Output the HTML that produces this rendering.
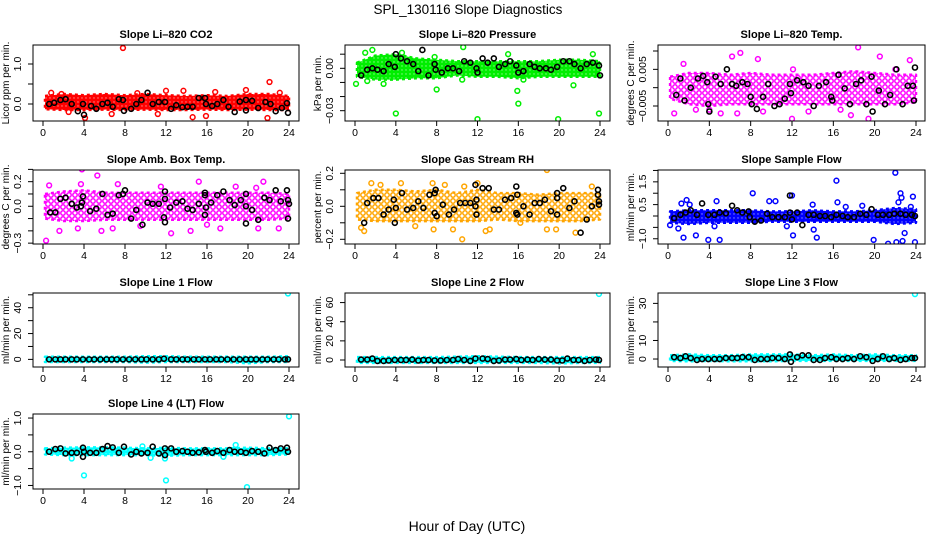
<!DOCTYPE html>
<html><head><meta charset="utf-8"><style>
html,body{margin:0;padding:0;background:#fff;}
svg{display:block;font-family:"Liberation Sans",Arial,sans-serif;}
</style></head><body>
<svg id="chart" width="936" height="540" viewBox="0 0 936 540" xmlns="http://www.w3.org/2000/svg">
<rect x="0" y="0" width="936" height="540" fill="#fff"/>
<text x="468" y="14" text-anchor="middle" font-size="13.5">SPL_130116  Slope Diagnostics</text>
<text x="467" y="531" text-anchor="middle" font-size="14">Hour of Day (UTC)</text>
</svg>
<script>
// ---------- data ----------
const xTicks = [0,4,8,12,16,20,24];
const bandHours = [0,2,4,6,8,10,12,14,16,18,20,22,24];

const co2Hi = [0.2,0.25,0.22,0.25,0.22,0.25,0.22,0.2,0.22,0.2,0.25,0.25,0.2];
const co2Lo = [-0.13,-0.15,-0.15,-0.14,-0.15,-0.14,-0.15,-0.15,-0.14,-0.15,-0.14,-0.15,-0.15];
const co2Out = [[7.8,1.4],[22.1,0.55],[19.8,0.35],[15.9,-0.3],[4.1,-0.35],[21.9,-0.35],[14.6,-0.33],[12,0.33],[13.7,0.33],[0.8,0.28],[6.7,-0.25],[1.8,0.25],[23.1,0.28],[9.2,0.27],[16.8,0.3],[2.5,-0.2],[11.2,-0.25]];
const co2Blk = [[0.6,0],[1.1,0.03],[1.7,0.1],[2.2,0.12],[2.8,0],[3.4,-0.18],[3.9,0],[4,-0.27],[4.7,-0.05],[5.2,-0.12],[5.8,0],[6.3,0.03],[6.8,-0.07],[7.4,0.12],[7.8,0.1],[7.9,-0.17],[8.6,-0.12],[9.1,0],[9.6,0.1],[10.2,0.28],[10.7,0],[11.3,0.05],[11.9,0.05],[12.5,-0.12],[13,-0.03],[13.6,-0.08],[14.1,-0.07],[14.6,-0.07],[15.2,0.15],[15.8,0.15],[15.9,0],[16.5,-0.05],[17,0],[17.6,0.1],[18.1,-0.07],[18.7,-0.2],[19.2,0.06],[19.8,0.1],[19.8,-0.16],[20.4,0.08],[21,-0.1],[21.7,0.05],[22.2,0],[22.7,-0.18],[23.3,-0.1],[23.8,0.02],[23.9,-0.22]];

const presHi = [0.004,0.009,0.01,0.007,0.006,0.005,0.005,0.005,0.005,0.005,0.006,0.006,0.005];
const presLo = [-0.006,-0.008,-0.008,-0.007,-0.007,-0.005,-0.006,-0.006,-0.007,-0.006,-0.006,-0.006,-0.006];
const presOut = [[4,-0.032],[12,-0.036],[19.9,-0.036],[23.9,-0.032],[16,-0.025],[15.9,-0.016],[8,-0.015],[7.8,0.008],[10.6,0.015],[1.7,0.013],[1,0.011],[0.1,-0.011],[1.2,-0.009],[21.4,-0.012],[23.3,0.01],[2.8,-0.011],[16.5,-0.008],[4.6,0.011],[15,0.01],[10.5,-0.008]];
const presBlk = [[0.6,-0.005],[1.2,-0.001],[1.7,0],[2.2,-0.001],[2.8,-0.002],[3.3,0.003],[3.9,0.001],[4,0.01],[4.5,0.007],[5.1,0.005],[5.7,0.003],[6.2,-0.002],[6.6,0.013],[7.2,-0.005],[7.8,0.003],[7.9,-0.001],[8.5,-0.003],[9.1,0],[9.6,0],[10.2,-0.002],[10.7,0.005],[11.3,0.004],[11.9,0],[12,-0.003],[12.5,0.007],[13,0.004],[13.6,0.007],[14.1,0.001],[14.7,0.003],[15.2,0.005],[15.8,0.002],[16,-0.003],[16.5,-0.002],[17.1,0.003],[17.6,0.001],[18.1,0],[18.7,0],[19.2,-0.001],[19.8,0.001],[20.4,0.005],[21,0.005],[21.5,0.003],[22.1,0],[22.7,0.003],[23.3,0.004],[23.9,0.002],[24,-0.005]];

const tempHi = [0.003,0.004,0.004,0.0035,0.004,0.0035,0.0035,0.0035,0.004,0.0045,0.004,0.0035,0.0035];
const tempLo = [-0.003,-0.0045,-0.005,-0.0045,-0.0045,-0.0045,-0.0045,-0.0045,-0.0045,-0.0045,-0.0045,-0.0045,-0.004];
const tempOut = [[18.4,0.011],[7,0.0095],[12,-0.0085],[19.4,-0.0085],[0.6,-0.007],[5.1,-0.007],[6.7,-0.007],[17.7,-0.0075],[20.5,0.0085],[23.4,0.0075],[8.7,0.0078],[6.2,0.0085],[1.5,0.0065],[13.6,-0.0065],[16.7,-0.006],[4,-0.006],[12.1,0.005],[2.7,-0.006],[22,0.005],[9.2,-0.0065]];
const tempBlk = [[0.8,-0.002],[1.2,0.0025],[1.6,-0.0035],[2.2,0],[2.9,0.0025],[3.4,0.0032],[3.8,0.0015],[3.9,-0.0045],[4,-0.0065],[4.6,0.003],[5.1,0.001],[5.7,0.005],[6.2,0.001],[6.6,0.0005],[7.2,0.0015],[7.7,0.001],[8,-0.0025],[8.1,-0.0045],[8.6,-0.0058],[9.2,-0.0025],[9.7,0.001],[10.3,-0.005],[10.8,-0.0045],[11.3,-0.003],[11.8,0.001],[11.9,-0.0015],[12.5,0.002],[13.1,0.0015],[13.6,0.0005],[14.1,-0.005],[14.6,0.0005],[15.3,0.0015],[15.8,-0.0025],[15.9,-0.0035],[16.5,0.0035],[17.1,-0.0002],[17.6,-0.0045],[18.2,0.001],[18.7,0.002],[19.2,-0.0045],[19.7,0.003],[19.8,-0.0065],[20.4,-0.0008],[21,-0.0045],[21.5,-0.002],[22.1,0.005],[22.7,-0.0045],[23.2,0.0005],[23.7,0.0005],[23.8,-0.0035],[23.9,0.0055]];

const ambHi = [0.1,0.12,0.13,0.11,0.11,0.11,0.11,0.11,0.11,0.11,0.11,0.11,0.1];
const ambLo = [-0.1,-0.12,-0.12,-0.11,-0.11,-0.11,-0.11,-0.11,-0.11,-0.11,-0.11,-0.11,-0.1];
const ambOut = [[0.3,-0.28],[3.8,0.3],[5.3,0.25],[7.3,0.18],[15.2,0.2],[21.5,0.2],[1.6,-0.2],[3.4,-0.18],[5.7,-0.2],[6.8,-0.18],[12.5,-0.22],[14.4,-0.2],[16,-0.15],[17.3,-0.18],[21,-0.18],[0.6,0.17],[18.8,0.16],[23,-0.18],[3.7,0.18],[11.5,0.16],[20.8,0.15],[9.5,-0.16]];
const ambBlk = [[0.7,-0.05],[1.2,-0.05],[1.7,0.06],[2.2,0.07],[2.8,0.02],[3.3,-0.01],[3.7,0],[3.8,0.03],[3.9,0.08],[4.6,-0.04],[5.2,-0.02],[5.8,0.1],[6.3,-0.07],[6.8,-0.06],[7.4,0.09],[7.8,0.1],[8,0.13],[8.6,-0.1],[9.1,-0.03],[9.7,-0.15],[10.2,0.03],[10.7,0.02],[11.3,0.02],[11.8,-0.09],[11.9,0.12],[11.9,0.06],[11.9,-0.13],[12.4,-0.01],[13,0.03],[13.6,0.04],[14.1,-0.02],[14.6,-0.03],[15.2,0.02],[15.8,0.11],[15.8,0.09],[15.9,-0.01],[15.8,-0.07],[16.4,0.03],[17,0.09],[17.6,0.12],[18.2,0.05],[18.7,0.01],[19.3,0.05],[19.8,0.1],[19.8,0],[19.8,-0.14],[20.4,-0.03],[21,-0.11],[21.6,0.07],[22.1,0.05],[22.7,0.13],[23.2,0.04],[23.8,0.13],[23.9,0.05],[23.9,-0.1],[24,0.02]];

const rhHi = [0.08,0.1,0.1,0.09,0.1,0.08,0.1,0.08,0.08,0.07,0.08,0.08,0.08];
const rhLo = [-0.08,-0.09,-0.09,-0.09,-0.09,-0.09,-0.09,-0.08,-0.09,-0.09,-0.09,-0.09,-0.08];
const rhOut = [[18.8,0.22],[10.5,-0.2],[0.6,-0.13],[0.9,-0.15],[7.7,-0.14],[12.8,-0.15],[13.2,-0.14],[21.6,-0.16],[18.8,-0.14],[19.7,-0.14],[9.6,-0.14],[4.5,0.14],[1.6,0.14],[7.6,0.14],[23.2,0.12],[12,0.14],[8.8,0.13],[10.7,0.12],[2.5,0.13],[16.2,-0.1],[5.9,-0.12]];
const rhBlk = [[0.9,-0.1],[1.2,0.02],[1.8,0.05],[2.3,0.05],[2.8,-0.05],[3.3,-0.02],[3.8,0.04],[3.9,-0.1],[4,-0.01],[4.6,0.08],[5.1,-0.02],[5.7,-0.01],[6.2,0.03],[6.7,-0.01],[7.3,0.07],[7.8,0.08],[7.9,0.1],[7.8,-0.04],[8,-0.06],[8.6,0.01],[9.2,-0.05],[9.7,-0.02],[10.3,0.02],[10.8,0.02],[11.3,0.02],[11.8,0.13],[11.9,0.04],[11.8,0],[11.9,-0.05],[12.5,0.11],[13.1,0.11],[13.6,-0.02],[14.1,-0.02],[14.7,0.04],[15.3,0.05],[15.8,0.12],[15.9,0.07],[15.8,-0.04],[15.9,-0.05],[16.5,0],[17.1,-0.05],[17.6,0.02],[18.1,0.02],[18.6,0.04],[19.2,-0.03],[19.8,0.08],[19.8,0.05],[19.8,-0.05],[20.4,0.11],[21,-0.01],[21.5,0.03],[22.1,-0.16],[22.7,-0.08],[23.2,0],[23.8,0.1],[23.8,0.07],[23.9,0.03],[23.9,0.01]];

const sfHi = [0.2,0.25,0.25,0.25,0.25,0.2,0.2,0.25,0.2,0.2,0.25,0.35,0.3];
const sfLo = [-0.3,-0.35,-0.3,-0.3,-0.3,-0.25,-0.25,-0.25,-0.25,-0.25,-0.25,-0.35,-0.3];
const sfOut = [[22,1.9],[16.3,1.55],[22.5,1.0],[8.2,1.0],[12,0.9],[23.7,0.85],[22.6,0.8],[9.8,0.65],[10.4,0.65],[16.4,0.6],[4.7,0.65],[1.8,0.7],[1.3,0.55],[17.2,0.4],[18.8,0.45],[5,-1.05],[3.9,-1.05],[1.5,-0.95],[2.7,-0.85],[12.1,-0.85],[14.4,-0.95],[19.9,-1.05],[21.3,-1.22],[22.1,-1.15],[22.7,-1.1],[23.9,-1.15],[22.9,-0.75],[11.5,-0.45],[0.2,-0.4],[14.1,-0.6],[22.3,0.6],[23.5,0.4],[14,0.5],[2.1,0.5],[4.5,-0.45],[1,-0.55]];
const sfBlk = [[0.6,-0.1],[1.2,0.05],[1.7,0.15],[2.2,0.25],[2.8,0.05],[3.3,0.55],[3.9,0.05],[4.5,0.05],[5,0.15],[5.6,0.12],[6.2,0.45],[6.7,0.25],[7.2,0.15],[7.8,0.2],[7.9,-0.05],[8.4,-0.25],[9,-0.2],[9.6,0.1],[10.1,-0.05],[10.7,-0.05],[11.3,-0.05],[11.8,0.9],[11.8,0.15],[12,-0.15],[12.5,0.15],[13,-0.4],[13.6,0.05],[14.1,0.05],[14.7,0],[15.2,0],[15.8,-0.05],[16.3,0.05],[16.9,0],[17.4,-0.05],[18,-0.05],[18.6,0.1],[19.2,0.05],[19.7,0.3],[20.3,0.05],[20.8,0.05],[21.4,0.05],[21.9,0.1],[22.5,0.1],[23,0.05],[23.6,0.05],[23.9,0]];

const l1Hi = [2,2,2,2,2,2.5,2.5,2,2,2,2,2,2.5];
const l1Lo = [-2,-2,-2,-2,-2,-2.5,-2,-2,-2,-2,-3,-2,-2];
const l1Out = [[23.9,51]];
const l1Blk = [[0.6,0],[1.2,0],[1.7,0],[2.2,0],[2.8,0],[3.3,0],[3.9,0],[4.5,0],[5,0],[5.6,0],[6.2,0],[6.7,0],[7.2,0],[7.8,0],[8.4,0],[9,0],[9.6,0],[10.1,0],[10.7,0],[11.3,0],[11.8,0.5],[12.5,0],[13,0],[13.6,0],[14.1,0],[14.7,0],[15.2,0],[15.8,0],[16.3,0],[16.9,0],[17.4,0],[18,0],[18.6,0],[19.2,0],[19.8,0],[20.3,0],[20.8,0],[21.4,0],[21.9,0],[22.5,0],[23,0],[23.6,0],[23.9,0]];

const l2Hi = [3,3,3,3,3,3.5,4,3.5,3,3,3,3,3];
const l2Lo = [-3,-3,-3,-3,-3,-3,-3,-3,-3,-3,-3.5,-3,-3];
const l2Out = [[23.9,69]];
const l2Blk = [[0.6,0.5],[1.2,0.5],[1.7,1.5],[2.2,-1],[2.8,-1],[3.3,-0.5],[3.9,0],[4.5,0],[5,0],[5.6,0.5],[6.2,-0.5],[6.7,0],[7.2,0],[7.8,-0.5],[8.4,-0.5],[9,0],[9.6,0],[10.1,1],[10.7,0],[11.3,-1],[11.8,1.5],[12.5,1.5],[13,1],[13.6,-1],[14.1,-0.5],[14.7,0.5],[15.2,0.5],[15.8,1],[16.3,0],[16.9,0.5],[17.4,0],[18,1],[18.6,0.5],[19.2,0.5],[19.8,-0.5],[20.3,-0.5],[20.8,1.5],[21.4,0],[21.9,0],[22.5,-1],[23,0],[23.6,0.5],[23.9,0]];

const l3Hi = [2,2.5,2,2,2.5,2.5,2.5,2,2.5,2,2.5,2,2];
const l3Lo = [-1,-1.2,-1,-1.2,-1.2,-1.2,-1,-1,-1,-1,-1,-1,-1];
const l3Out = [[23.9,35]];
const l3Blk = [[0.6,1],[1.2,0.5],[1.7,1.5],[2.2,0.5],[2.8,-0.5],[3.3,0],[3.9,0],[4.5,0],[5,0],[5.6,0.5],[6.2,0.5],[6.7,0.5],[7.2,1],[7.8,1],[8.4,-0.5],[9,0],[9.6,0],[10.1,0.5],[10.7,0.5],[11.3,0],[11.8,2.5],[11.9,-1.5],[12.5,1],[13,2],[13.6,2],[14.1,-0.5],[14.7,-0.5],[15.2,0.5],[15.8,1],[16.3,0],[16.9,0],[17.4,0.5],[18,0],[18.6,1.5],[19.2,1],[19.8,-1],[20.3,0],[20.8,1.5],[21.4,0],[21.9,0.5],[22.5,-0.5],[23,0],[23.6,0.5],[23.9,0.5]];

const l4Hi = [0.1,0.12,0.13,0.13,0.12,0.1,0.12,0.1,0.1,0.1,0.12,0.1,0.1];
const l4Lo = [-0.08,-0.1,-0.1,-0.1,-0.1,-0.1,-0.12,-0.1,-0.1,-0.1,-0.1,-0.1,-0.08];
const l4Out = [[4,-0.7],[12,-0.85],[19.9,-1.05],[24,1.05],[18.8,0.2],[2.8,-0.2],[11.9,-0.2],[10.5,-0.18],[17.6,-0.15],[9.7,0.16]];
const l4Blk = [[0.6,0],[1.2,0.08],[1.7,0.1],[2.2,-0.05],[2.8,-0.03],[3.3,-0.03],[3.9,0.12],[3.9,-0.15],[4,0],[4.6,-0.03],[5.2,-0.03],[5.8,0.08],[6.3,0.17],[6.8,0.13],[7.4,-0.03],[7.9,0.15],[8.6,-0.08],[9.1,0],[9.6,-0.05],[10.2,-0.03],[10.7,0.15],[11.3,-0.05],[11.9,0.1],[11.9,-0.1],[12.5,0.1],[13,0],[13.6,0.02],[14.1,0],[14.6,-0.03],[15.2,-0.02],[15.8,0.05],[15.9,0],[16.5,-0.03],[17,0.02],[17.6,-0.03],[18.2,0.05],[18.7,0],[19.3,0],[19.8,-0.03],[20.4,0.02],[21,0],[21.6,-0.05],[22.1,0.12],[22.7,0.05],[23.2,0.1],[23.8,0.12],[23.9,0]];

// ---------- layout ----------
const cols = [{b0:33,b1:299,h0:43,h24:289,yl:9,tl:21},{b0:345,b1:610,h0:355,h24:600,yl:321,tl:333},{b0:658,b1:925,h0:668,h24:916,yl:634,tl:646}];
const rows = [{t:45,b:121},{t:170,b:244},{t:293,b:367},{t:414,b:489}];

const panels = [
 {name:'co2',title:'Slope Li\u2013820 CO2',ylab:'Licor ppm per min.',r:0,c:0,dom:[-0.425,1.475],ticks:[0,0.5,1.0],tl:['0.0','','1.0'],col:'#ff0000',hi:co2Hi,lo:co2Lo,out:co2Out,blk:co2Blk,dense:1},
 {name:'pressure',title:'Slope Li\u2013820 Pressure',ylab:'kPa per min.',r:0,c:1,dom:[-0.0373,0.0165],ticks:[-0.03,-0.02,-0.01,0,0.01],tl:['\u22120.03','','','0.00',''],col:'#00ee00',hi:presHi,lo:presLo,out:presOut,blk:presBlk,dense:1},
 {name:'li820-temp',title:'Slope Li\u2013820 Temp.',ylab:'degrees C per min.',r:0,c:2,dom:[-0.00909,0.01164],ticks:[-0.005,0,0.005,0.01],tl:['\u22120.005','','0.005',''],col:'#ff00ff',hi:tempHi,lo:tempLo,out:tempOut,blk:tempBlk,dense:0},
 {name:'amb-box-temp',title:'Slope Amb. Box Temp.',ylab:'degrees C per min.',r:1,c:0,dom:[-0.307,0.295],ticks:[-0.3,-0.2,-0.1,0,0.1,0.2,0.3],tl:['\u22120.3','','','0.0','','0.2',''],col:'#ff00ff',hi:ambHi,lo:ambLo,out:ambOut,blk:ambBlk,dense:0},
 {name:'gas-stream-rh',title:'Slope Gas Stream RH',ylab:'percent per min.',r:1,c:1,dom:[-0.2285,0.22],ticks:[-0.2,-0.1,0,0.1,0.2],tl:['\u22120.2','','0.0','','0.2'],col:'#ffa500',hi:rhHi,lo:rhLo,out:rhOut,blk:rhBlk,dense:0},
 {name:'sample-flow',title:'Slope Sample Flow',ylab:'ml/min per min.',r:1,c:2,dom:[-1.23,2.02],ticks:[-1,-0.5,0,0.5,1,1.5,2],tl:['\u22121.0','','','0.5','','1.5',''],col:'#0000ff',hi:sfHi,lo:sfLo,out:sfOut,blk:sfBlk,dense:1},
 {name:'line1-flow',title:'Slope Line 1 Flow',ylab:'ml/min per min.',r:2,c:0,dom:[-5.9,51.4],ticks:[0,10,20,30,40,50],tl:['0','','20','','40',''],col:'#00ffff',hi:l1Hi,lo:l1Lo,out:l1Out,blk:l1Blk,dense:1},
 {name:'line2-flow',title:'Slope Line 2 Flow',ylab:'ml/min per min.',r:2,c:1,dom:[-7.3,70],ticks:[0,20,40,60],tl:['0','20','40','60'],col:'#00ffff',hi:l2Hi,lo:l2Lo,out:l2Out,blk:l2Blk,dense:1},
 {name:'line3-flow',title:'Slope Line 3 Flow',ylab:'ml/min per min.',r:2,c:2,dom:[-4.3,35.6],ticks:[0,10,20,30],tl:['0','10','','30'],col:'#00ffff',hi:l3Hi,lo:l3Lo,out:l3Out,blk:l3Blk,dense:1},
 {name:'line4-flow',title:'Slope Line 4 (LT) Flow',ylab:'ml/min per min.',r:3,c:0,dom:[-1.105,1.12],ticks:[-1,-0.5,0,0.5,1],tl:['\u22121.0','','0.0','','1.0'],col:'#00ffff',hi:l4Hi,lo:l4Lo,out:l4Out,blk:l4Blk,dense:1}
];

const NS='http://www.w3.org/2000/svg';
const svg=document.getElementById('chart');
function mk(tag,attrs,parent){const e=document.createElementNS(NS,tag);for(const k in attrs)e.setAttribute(k,attrs[k]);(parent||svg).appendChild(e);return e;}
const defs=mk('defs',{});

panels.forEach(p=>{
  const C=cols[p.c],R=rows[p.r];
  const xs=h=>C.h0+(C.h24-C.h0)*h/24;
  const ys=v=>R.b-(v-p.dom[0])/(p.dom[1]-p.dom[0])*(R.b-R.t);
  // texture pattern: small open circles like overlapping R points
  const pat=mk('pattern',{id:'pat-'+p.name,patternUnits:'userSpaceOnUse',width:p.dense?4:6,height:p.dense?4:6},defs);
  if(p.dense){
    mk('rect',{x:0,y:0,width:4,height:4,fill:p.col},pat);
    mk('circle',{cx:2,cy:2,r:0.7,fill:'#fff','fill-opacity':0.55},pat);
  } else {
    mk('circle',{cx:3,cy:3,r:2.2,fill:'none',stroke:p.col,'stroke-width':1.5},pat);
  }
  const g=mk('g',{});
  
  
  const clip=mk('clipPath',{id:'clip-'+p.name},g);
  mk('rect',{x:C.b0,y:R.t,width:C.b1-C.b0,height:R.b-R.t},clip);
  const plot=mk('g',{'clip-path':'url(#clip-'+p.name+')'},g);
  let d='';
  bandHours.forEach((h,i)=>{d+=(i?'L':'M')+xs(Math.max(h,0.2)).toFixed(1)+','+ys(p.hi[i]).toFixed(1);});
  for(let i=bandHours.length-1;i>=0;i--){d+='L'+xs(Math.max(bandHours[i],0.2)).toFixed(1)+','+ys(p.lo[i]).toFixed(1);}
  const band=mk('path',{d:d+'Z',fill:'url(#pat-'+p.name+')',stroke:p.col,'stroke-width':2.5,'stroke-dasharray':'3 3','stroke-linejoin':'round'},plot);
  
  
  p.out.forEach(pt=>{
    const c=mk('circle',{cx:xs(pt[0]),cy:ys(pt[1]),r:2.4,fill:'none',stroke:p.col,'stroke-width':1.5},plot);
    
    
  });
  p.blk.forEach(pt=>{
    const c=mk('circle',{cx:xs(pt[0]),cy:ys(pt[1]),r:2.5,fill:'none',stroke:'#000','stroke-width':1.6},plot);
    
    
  });
  const box=mk('rect',{x:C.b0,y:R.t,width:C.b1-C.b0,height:R.b-R.t,fill:'none',stroke:'#000','stroke-width':1},g);
  
  
  const t=mk('text',{x:(C.b0+C.b1)/2,y:R.t-7,'text-anchor':'middle','font-size':11,'font-weight':'bold'},g);
  t.textContent=p.title;
  
  
  const xa=mk('g',{},g);
  
  
  mk('line',{x1:xs(0),x2:xs(24),y1:R.b,y2:R.b,stroke:'#000'},xa);
  xTicks.forEach(h=>{
    mk('line',{x1:xs(h),x2:xs(h),y1:R.b,y2:R.b+5,stroke:'#000'},xa);
    const tx=mk('text',{x:xs(h),y:R.b+15,'text-anchor':'middle','font-size':10.5},xa);
    tx.textContent=String(h);
    
    
  });
  const ya=mk('g',{},g);
  
  
  mk('line',{x1:C.b0,x2:C.b0,y1:ys(p.ticks[0]),y2:ys(p.ticks[p.ticks.length-1]),stroke:'#000'},ya);
  p.ticks.forEach((v,i)=>{
    const y=ys(v);
    mk('line',{x1:C.b0-5,x2:C.b0,y1:y,y2:y,stroke:'#000'},ya);
    if(p.tl[i]){
      const tx=mk('text',{x:C.tl,y:y,'text-anchor':'middle','font-size':10.5,transform:'rotate(-90 '+C.tl+' '+y+')'},ya);
      tx.textContent=p.tl[i];
      
      
    }
  });
  const cy=(R.t+R.b)/2;
  const yl=mk('text',{x:C.yl,y:cy,'text-anchor':'middle','font-size':10,transform:'rotate(-90 '+C.yl+' '+cy+')'},g);
  yl.textContent=p.ylab;
  
  
});
</script>
</body></html>
